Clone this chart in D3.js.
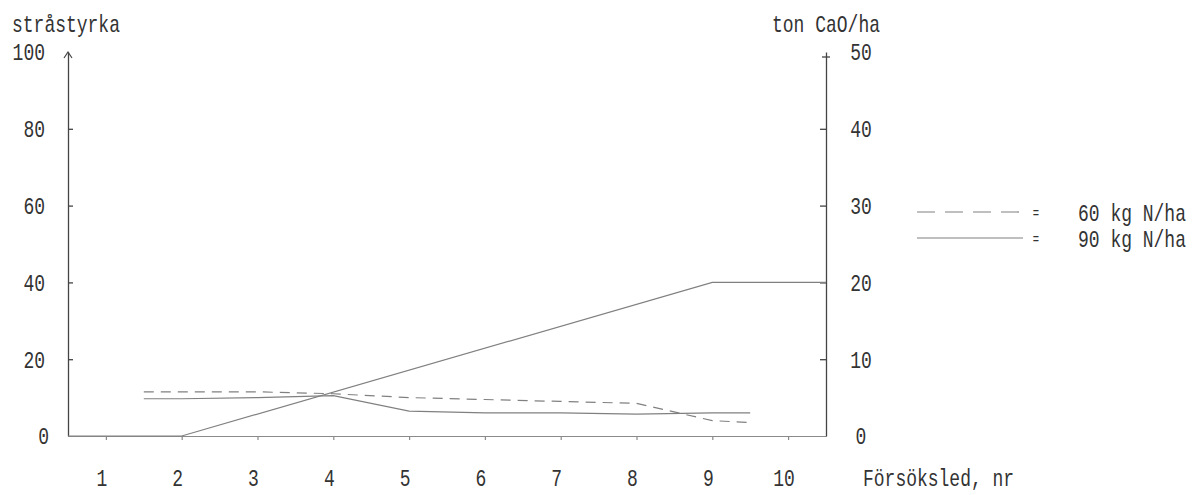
<!DOCTYPE html>
<html>
<head>
<meta charset="utf-8">
<script src="https://cdn.jsdelivr.net/npm/d3@7"></script>
<style>
  body { margin: 0; background: #fff; }
  svg text { font-family: "Liberation Mono", "DejaVu Sans Mono", monospace; font-size: 24px; fill: #333; }
  .axis path, .axis line { stroke: #444; stroke-width: 1.3; }
  .xaxis path, .xaxis line { stroke: #8a8a8a; stroke-width: 1.2; }
</style>
</head>
<body>
<div id="chart"></div>
<script>
// Försöksled 1-10
const categories = [1, 2, 3, 4, 5, 6, 7, 8, 9, 10];
const strawTicks = [0, 20, 40, 60, 80, 100];
const caoTicks = [0, 10, 20, 30, 40, 50];

// ton CaO/ha (brytpunkter, avläst)
const caoX = [0.5, 2, 9, 10.5];
const caoY = [0, 0, 20, 20];

// stråstyrka, 60 kg N/ha (streckad)
const n60X = [1.5, 2, 3, 4, 5, 6, 7, 8, 9, 9.5];
const n60Y = [11.5, 11.5, 11.5, 11, 10, 9.5, 9, 8.5, 4, 3.5];

// stråstyrka, 90 kg N/ha (heldragen)
const n90X = [1.5, 2, 3, 4, 5, 6, 7, 8, 9, 9.5];
const n90Y = [9.7, 9.7, 10, 10.5, 6.5, 6, 6, 5.7, 6, 6];

const legendLabels = ['60 kg N/ha', '90 kg N/ha'];
const legendDash = ['18,10', null];

const width = 1194;
const height = 495;

const svg = d3.select('#chart')
  .append('svg')
  .attr('width', width)
  .attr('height', height);

const xScale = d3.scaleLinear().domain([0.5, 10.5]).range([68, 826]);
const yLeft = d3.scaleLinear().domain([0, 100]).range([436, 52]);
const yRight = d3.scaleLinear().domain([0, 50]).range([436, 52]);

// text is squeezed sideways to look like the plotter lettering
function label(x, y, str, anchor) {
  return svg.append('text')
    .attr('transform', `translate(${x},${y}) scale(0.75,1)`)
    .attr('text-anchor', anchor || 'start')
    .attr('dy', '0.35em')
    .text(str);
}

// x axis (baseline + small ticks)
svg.append('g')
  .attr('class', 'xaxis')
  .attr('transform', `translate(0, ${yLeft(0)})`)
  .call(d3.axisBottom(xScale).tickValues(categories).tickSizeInner(4).tickSizeOuter(0).tickFormat(''));

// left axis
svg.append('g')
  .attr('class', 'axis')
  .attr('transform', 'translate(68, 0)')
  .call(d3.axisLeft(yLeft).tickValues(strawTicks.slice(1, -1)).tickSizeInner(-5).tickSizeOuter(0).tickFormat(''));

// small arrow on top of left axis
svg.append('path')
  .attr('d', `M64,${yLeft(100) + 6} L68,${yLeft(100)} L72,${yLeft(100) + 6}`)
  .attr('fill', 'none')
  .attr('stroke', '#444')
  .attr('stroke-width', 1.2);

// right axis
svg.append('g')
  .attr('class', 'axis')
  .attr('transform', 'translate(826, 0)')
  .call(d3.axisRight(yRight).tickValues(caoTicks.slice(1, -1)).tickSizeInner(-6).tickSizeOuter(0).tickFormat(''));

svg.append('line')
  .attr('x1', 822).attr('x2', 830)
  .attr('y1', yRight(50) + 5).attr('y2', yRight(50) + 5)
  .attr('stroke', '#444').attr('stroke-width', 1.3);

// tick labels
strawTicks.forEach(v => label(v === 0 ? 49 : 45, yLeft(v), String(v), 'end'));
caoTicks.forEach(v => label(861, yRight(v), String(v), 'middle'));
categories.forEach(c => label(xScale(c) - 4, 478, String(c), 'middle'));

label(12, 24, 'stråstyrka');
label(880, 24, 'ton CaO/ha', 'end');
label(863, 478, 'Försöksled, nr');

// data lines
const lineL = d3.line().x(d => xScale(d[0])).y(d => yLeft(d[1]));
const lineR = d3.line().x(d => xScale(d[0])).y(d => yRight(d[1]));

svg.append('path')
  .datum(d3.zip(caoX, caoY))
  .attr('d', lineR)
  .attr('fill', 'none')
  .attr('stroke', '#808080')
  .attr('stroke-width', 1.2);

svg.append('path')
  .datum(d3.zip(n60X, n60Y))
  .attr('d', lineL)
  .attr('fill', 'none')
  .attr('stroke', '#808080')
  .attr('stroke-width', 1.2)
  .attr('stroke-dasharray', '10,7');

svg.append('path')
  .datum(d3.zip(n90X, n90Y))
  .attr('d', lineL)
  .attr('fill', 'none')
  .attr('stroke', '#808080')
  .attr('stroke-width', 1.2);

// legend
const legend = svg.append('g').attr('class', 'legend');
legendLabels.forEach((name, i) => {
  const y = 212 + i * 26;
  legend.append('line')
    .attr('x1', 917).attr('x2', 1023)
    .attr('y1', y).attr('y2', y)
    .attr('stroke', '#808080')
    .attr('stroke-width', 1.2)
    .attr('stroke-dasharray', legendDash[i]);
  label(1036, y + 1, '=', 'middle').style('font-size', '14px');
  label(1078, y + 1, name);
});
</script>
</body>
</html>
